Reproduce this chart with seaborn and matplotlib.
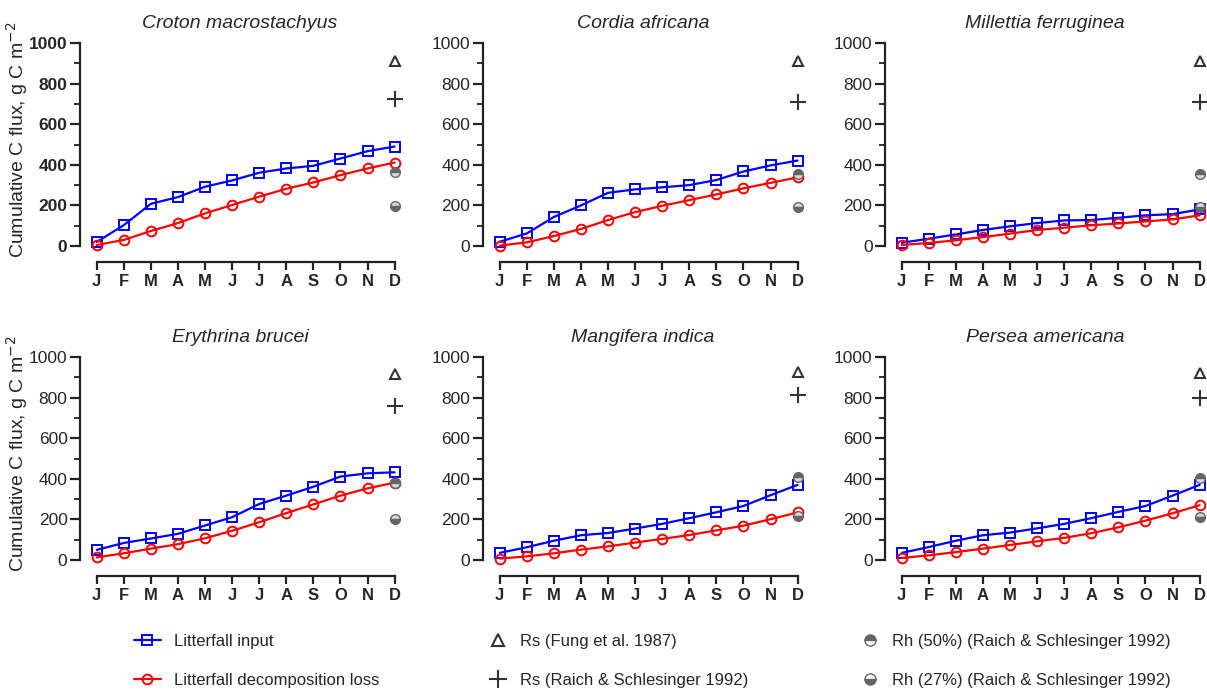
import numpy as np
import pandas as pd
import matplotlib
matplotlib.use("Agg")
import matplotlib.pyplot as plt
from matplotlib.lines import Line2D
from matplotlib.ticker import MultipleLocator
import seaborn as sns

months = ["J", "F", "M", "A", "M", "J", "J", "A", "S", "O", "N", "D"]
species = ["Croton macrostachyus", "Cordia africana", "Millettia ferruginea",
           "Erythrina brucei", "Mangifera indica", "Persea americana"]

litter_input = [
    [20, 103, 208, 241, 292, 323, 361, 382, 395, 431, 467, 490],
    [21, 62, 143, 200, 262, 279, 289, 300, 325, 367, 397, 421],
    [16, 36, 57, 79, 97, 113, 126, 128, 139, 151, 157, 180],
    [50, 84, 106, 129, 170, 211, 276, 317, 361, 411, 427, 432],
    [35, 63, 95, 122, 133, 155, 178, 206, 235, 266, 319, 370],
    [35, 64, 95, 122, 135, 156, 178, 206, 237, 266, 317, 370],
]
decomp_loss = [
    [5, 30, 74, 113, 161, 202, 243, 282, 313, 349, 382, 411],
    [2, 18, 49, 84, 128, 167, 198, 226, 254, 284, 311, 338],
    [5, 15, 28, 44, 61, 79, 90, 102, 111, 121, 131, 151],
    [13, 33, 56, 78, 107, 144, 186, 231, 274, 317, 353, 381],
    [7, 18, 33, 51, 67, 86, 104, 123, 146, 169, 201, 234],
    [10, 23, 39, 56, 74, 92, 109, 132, 161, 194, 230, 270],
]
rs_fung = [913, 910, 910, 916, 924, 921]
rs_raich = [726, 707, 710, 761, 814, 796]
rh_50 = [364, 356, 356, 381, 411, 403]
rh_27 = [197, 190, 192, 203, 219, 214]

legend_labels = ["Litterfall input", "Litterfall decomposition loss",
                 "Rs (Fung et al. 1987)", "Rs (Raich & Schlesinger 1992)",
                 "Rh (50%) (Raich & Schlesinger 1992)", "Rh (27%) (Raich & Schlesinger 1992)"]

sns.set_style("ticks")
plt.rcParams["font.family"] = ["Liberation Sans", "DejaVu Sans"]

W, H = 1207, 692
fig = plt.figure(figsize=(W / 100, H / 100), dpi=100)

BLUE = "#0000ff"
RED = "#ff0000"
DARK = "#333333"
GRAY = "#666666"
LIGHT = "#d8d8d8"

lefts = [80, 483, 885]
rows = [(43, 262), (357, 576)]
ax_w = 320
x = np.arange(12)

for i, name in enumerate(species):
    r, c = divmod(i, 3)
    top, bot = rows[r]
    left = lefts[c]
    ax = fig.add_axes([left / W, 1 - bot / H, ax_w / W, (bot - top) / H])
    ax.set_facecolor("none")

    sns.lineplot(x=x, y=litter_input[i], ax=ax, color=BLUE, marker="s",
                 markersize=6.5, markerfacecolor="none", markeredgecolor=BLUE,
                 markeredgewidth=1.4, linewidth=1.6, clip_on=False)
    sns.lineplot(x=x, y=decomp_loss[i], ax=ax, color=RED, marker="o",
                 markersize=7, markerfacecolor="none", markeredgecolor=RED,
                 markeredgewidth=1.4, linewidth=1.6, clip_on=False)
    sns.lineplot(x=[11], y=[rs_fung[i]], ax=ax, marker="^", markersize=7,
                 markerfacecolor="none", markeredgecolor=DARK, markeredgewidth=1.5,
                 linestyle="none", clip_on=False)
    sns.lineplot(x=[11], y=[rs_raich[i]], ax=ax, marker="+", markersize=11,
                 markeredgecolor=DARK, markeredgewidth=1.5, linestyle="none",
                 clip_on=False)
    sns.lineplot(x=[11], y=[rh_50[i]], ax=ax, marker="o", markersize=7,
                 fillstyle="top", markerfacecolor=GRAY, markerfacecoloralt=LIGHT,
                 markeredgecolor=GRAY, markeredgewidth=1.0, linestyle="none",
                 clip_on=False)
    sns.lineplot(x=[11], y=[rh_27[i]], ax=ax, marker="o", markersize=7,
                 fillstyle="bottom", markerfacecolor=GRAY, markerfacecoloralt=LIGHT,
                 markeredgecolor=GRAY, markeredgewidth=1.0, linestyle="none",
                 clip_on=False)

    ylo = -16 / ((bot - top - 16) / 1000)
    ax.set_ylim(ylo, 1000)
    ax.set_xlim(-0.62, 11.2)
    sns.despine(ax=ax)
    ax.spines["left"].set_bounds(0, 1000)
    ax.spines["bottom"].set_bounds(0, 11)
    for s in ("left", "bottom"):
        ax.spines[s].set_linewidth(1.6)
        ax.spines[s].set_color("#222222")
    ax.set_yticks(range(0, 1001, 200))
    ax.yaxis.set_minor_locator(MultipleLocator(100))
    ax.set_xticks(x)
    ax.set_xticklabels(months, fontweight="bold", fontsize=12)
    ax.tick_params(axis="y", which="major", length=7, width=1.6, labelsize=12.5,
                   color="#222222", pad=2)
    ax.tick_params(axis="y", which="minor", length=4, width=1.3, color="#222222")
    ax.tick_params(axis="x", length=6, width=1.6, color="#222222", pad=3)
    if i == 0:
        for t in ax.get_yticklabels():
            t.set_fontweight("bold")
    ax.set_title(name, fontstyle="italic", fontsize=14, pad=11)
    if c == 0:
        ax.set_ylabel("Cumulative C flux, g C m$^{-2}$", fontsize=14)
        ax.yaxis.set_label_coords(-0.155, 0.56)
    else:
        ax.set_ylabel("")
    ax.set_xlabel("")

# legends
h_input = Line2D([], [], color=BLUE, marker="s", markersize=6.5, markerfacecolor="none",
                 markeredgewidth=1.4, linewidth=1.6)
h_loss = Line2D([], [], color=RED, marker="o", markersize=7, markerfacecolor="none",
                markeredgewidth=1.4, linewidth=1.6)
h_fung = Line2D([], [], color=DARK, marker="^", markersize=9, markerfacecolor="none",
                markeredgewidth=1.5, linestyle="none")
h_raich = Line2D([], [], color=DARK, marker="+", markersize=13, markeredgewidth=1.5,
                 linestyle="none")
h_50 = Line2D([], [], marker="o", markersize=8, fillstyle="top", markerfacecolor=GRAY,
              markerfacecoloralt="white", markeredgecolor=GRAY, linestyle="none")
h_27 = Line2D([], [], marker="o", markersize=8, fillstyle="bottom", markerfacecolor=GRAY,
              markerfacecoloralt="white", markeredgecolor=GRAY, linestyle="none")

groups = [([h_input, h_loss], legend_labels[0:2], 134, 1.6),
          ([h_fung, h_raich], legend_labels[2:4], 490, 1.0),
          ([h_50, h_27], legend_labels[4:6], 862, 1.0)]
for handles, labels, xpx, hl in groups:
    fig.legend(handles, labels, loc="center left",
               bbox_to_anchor=(xpx / W, 1 - 661 / H), frameon=False,
               fontsize=12, handlelength=hl, handletextpad=0.8,
               labelspacing=1.45, borderaxespad=0, borderpad=0)

fig.savefig("out.png", dpi=100)
